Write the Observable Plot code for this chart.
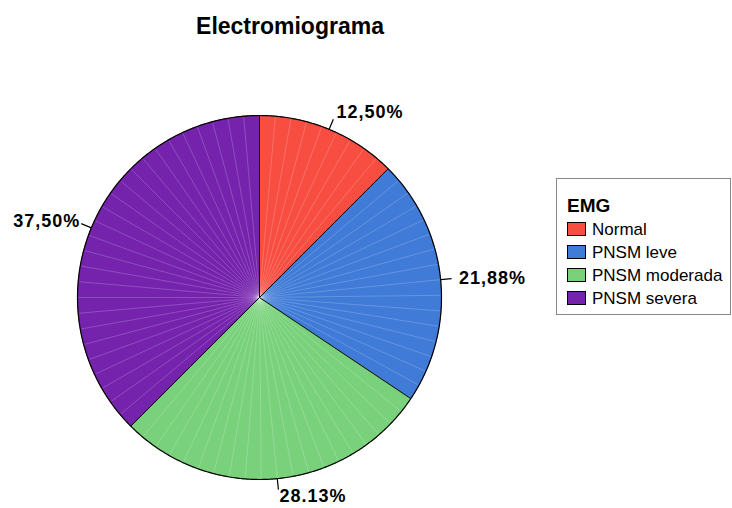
<!DOCTYPE html>
<html><head><meta charset="utf-8">
<script src="https://cdn.jsdelivr.net/npm/d3@7"></script>
<script src="https://cdn.jsdelivr.net/npm/@observablehq/plot@0.6"></script>
<style>
body{margin:0;background:#fff;font-family:"Liberation Sans",Arial,sans-serif}
#wrap{position:relative;width:732px;height:508px;overflow:hidden}
#chart{position:absolute;left:0;top:0}
#title{position:absolute;left:0;width:580px;top:15px;text-align:center;font-weight:bold;font-size:23px;line-height:23px;color:#000}
#legend{position:absolute;left:556px;top:178px;width:175px;height:137px;border:1px solid #888;box-sizing:border-box;background:#fff}
#legend .lt{position:absolute;left:10px;top:17px;font-weight:bold;font-size:19px;line-height:19px}
#legend .row{position:absolute;left:10px;display:flex;align-items:center;height:14px;font-size:17px;line-height:17px;white-space:nowrap}
#legend .sw{width:17px;height:12px;border:1px solid #000;margin-right:6px;flex:none}
</style></head>
<body>
<div id="wrap">
  <div id="chart"></div>
  <div id="title"></div>
  <div id="legend"></div>
</div>
<script>
const chartTitle = "Electromiograma";
const legendTitle = "EMG";
const categories = ["Normal", "PNSM leve", "PNSM moderada", "PNSM severa"];
const percents = [12.50, 21.88, 28.13, 37.50];
const labels = ["12,50%", "21,88%", "28.13%", "37,50%"];
const colors = ["#f84e42", "#3f7bd7", "#79d27b", "#7523ad"];

// layout
const W = 732, H = 508, cx = 259, cy = 297, R = 182;

const total = d3.sum(percents);
let acc = 0;
const slices = categories.map((c, i) => {
  const a0 = acc / total * 2 * Math.PI;
  acc += percents[i];
  const a1 = acc / total * 2 * Math.PI;
  return {c, i, a0, a1, mid: (a0 + a1) / 2};
});
const px = (a, r) => cx + r * Math.sin(a);
const py = (a, r) => cy - r * Math.cos(a);

function poly(s) {
  const pts = [{x: cx, y: cy}];
  const n = Math.max(2, Math.ceil((s.a1 - s.a0) / (Math.PI / 360)));
  for (let k = 0; k <= n; k++) {
    const a = s.a0 + (s.a1 - s.a0) * k / n;
    pts.push({x: px(a, R), y: py(a, R)});
  }
  pts.push({x: cx, y: cy});
  return pts;
}

const fills = slices.map(s => Plot.line(poly(s), {x: "x", y: "y", fill: colors[s.i], stroke: colors[s.i], strokeWidth: 0.6}));

// faint internal radial lines (rendering texture)
const faint = [];
slices.forEach(s => {
  const n = Math.round((s.a1 - s.a0) / (5 * Math.PI / 180));
  for (let k = 1; k < n; k++) {
    const a = s.a0 + (s.a1 - s.a0) * k / n;
    faint.push({x1: cx, y1: cy, x2: px(a, R - 1), y2: py(a, R - 1)});
  }
});

const bounds = slices.map(s => ({x1: cx, y1: cy, x2: px(s.a0, R), y2: py(s.a0, R)}));
const circle = d3.range(0, 721).map(k => ({x: px(k * Math.PI / 360, R), y: py(k * Math.PI / 360, R)}));
const leaders = slices.map(s => ({x1: px(s.mid, R), y1: py(s.mid, R), x2: px(s.mid, R + 11), y2: py(s.mid, R + 11)}));
const labelPts = slices.map(s => {
  const side = Math.sign(Math.sin(s.mid));
  return {
    x: px(s.mid, R + 18) + side * (side > 0 ? 34 : 28),
    y: py(s.mid, R + 18),
    t: labels[s.i]
  };
});

const plot = Plot.plot({
  width: W, height: H, margin: 0,
  x: {domain: [0, W], range: [0, W], axis: null},
  y: {domain: [0, H], range: [0, H], axis: null},
  style: {fontFamily: "'Liberation Sans', Arial, sans-serif", letterSpacing: "1px", background: "transparent"},
  marks: [
    ...fills,
    Plot.link(faint, {x1: "x1", y1: "y1", x2: "x2", y2: "y2", stroke: "white", strokeOpacity: 0.28, strokeWidth: 0.7}),
    Plot.link(bounds, {x1: "x1", y1: "y1", x2: "x2", y2: "y2", stroke: "black", strokeWidth: 1}),
    Plot.line(circle, {x: "x", y: "y", stroke: "black", strokeWidth: 1.2}),
    Plot.link(leaders, {x1: "x1", y1: "y1", x2: "x2", y2: "y2", stroke: "black", strokeWidth: 1.2}),
    Plot.text(labelPts, {x: "x", y: "y", text: "t", fontSize: 18, fontWeight: "bold", fill: "black", textAnchor: "middle"})
  ]
});
document.getElementById("chart").appendChild(plot);

document.getElementById("title").textContent = chartTitle;
const lg = document.getElementById("legend");
const lt = document.createElement("div");
lt.className = "lt"; lt.textContent = legendTitle; lg.appendChild(lt);
categories.forEach((c, i) => {
  const row = document.createElement("div");
  row.className = "row";
  row.style.top = (43 + i * 23) + "px";
  const sw = document.createElement("div");
  sw.className = "sw"; sw.style.background = colors[i];
  const tx = document.createElement("span");
  tx.textContent = c;
  row.appendChild(sw); row.appendChild(tx);
  lg.appendChild(row);
});
</script>
</body></html>
